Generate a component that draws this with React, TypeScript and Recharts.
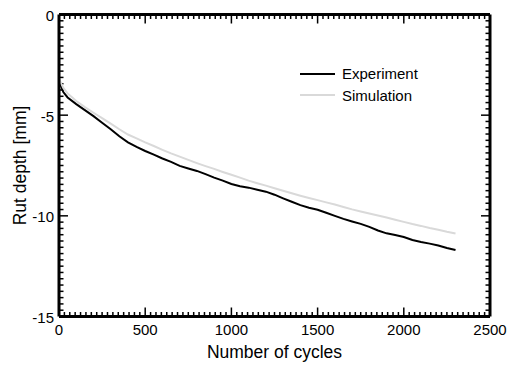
import React from 'react';
import { LineChart, Line, XAxis, YAxis, ReferenceLine } from 'recharts';

// Load cycles at which rut depth was recorded
const cycles = [
  0, 25, 50, 100, 150, 200, 250, 300, 350, 400, 450, 500, 550, 600, 650, 700,
  750, 800, 850, 900, 950, 1000, 1050, 1100, 1150, 1200, 1250, 1300, 1350,
  1400, 1450, 1500, 1550, 1600, 1650, 1700, 1750, 1800, 1850, 1900, 1950, 2000,
  2050, 2100, 2150, 2200, 2250, 2300,
];

// Measured rut depth [mm]
const experiment = [
  -3.3, -3.85, -4.12, -4.45, -4.75, -5.05, -5.38, -5.7, -6.05, -6.35, -6.58,
  -6.78, -6.96, -7.15, -7.32, -7.52, -7.65, -7.77, -7.93, -8.1, -8.25, -8.42,
  -8.53, -8.6, -8.7, -8.8, -8.95, -9.13, -9.3, -9.47, -9.6, -9.7, -9.85, -10.0,
  -10.15, -10.28, -10.4, -10.55, -10.73, -10.87, -10.95, -11.05, -11.2, -11.3,
  -11.38, -11.47, -11.6, -11.7,
];

// Simulated rut depth [mm]
const simulation = [
  -3.2, -3.65, -3.92, -4.3, -4.6, -4.88, -5.15, -5.42, -5.7, -5.96, -6.15,
  -6.35, -6.53, -6.72, -6.9, -7.06, -7.22, -7.38, -7.53, -7.67, -7.82, -7.96,
  -8.1, -8.25, -8.38, -8.5, -8.63, -8.75, -8.88, -9.0, -9.11, -9.22, -9.33,
  -9.44, -9.56, -9.68, -9.78, -9.88, -9.98, -10.08, -10.19, -10.3, -10.41,
  -10.5, -10.6, -10.69, -10.79, -10.88,
];

const seriesNames = ['Experiment', 'Simulation'];
const seriesColors = ['#000000', '#d9d9d9'];
const xMajorTicks = [0, 500, 1000, 1500, 2000, 2500];
const yMajorTicks = [-15, -10, -5, 0];
const xTitle = 'Number of cycles';
const yTitle = 'Rut depth [mm]';

const data = cycles.map((c, i) => ({
  cycle: c,
  experiment: experiment[i],
  simulation: simulation[i],
}));

const FONT = "'Liberation Sans', Arial, Helvetica, sans-serif";
const INK = '#000';
const SUBDIV = 16;
const FRAME = { stroke: INK, strokeWidth: 3 };

// Plot box size in pixels, used to turn tick lengths into axis units
const PLOT_W = 431;
const PLOT_H = 302;
const X_MIN = xMajorTicks[0];
const X_MAX = xMajorTicks[xMajorTicks.length - 1];
const Y_MIN = yMajorTicks[0];
const Y_MAX = yMajorTicks[yMajorTicks.length - 1];
const MAJOR_PX = 9;
const MINOR_PX = 4.5;
const pxToX = (px: number) => (px * (X_MAX - X_MIN)) / PLOT_W;
const pxToY = (px: number) => (px * (Y_MAX - Y_MIN)) / PLOT_H;

// Interior tick positions (majors and minors), frame corners excluded
function innerTicks(major: number[]) {
  const out: { v: number; major: boolean }[] = [];
  for (let k = 0; k < major.length - 1; k++) {
    const a = major[k];
    const b = major[k + 1];
    for (let j = 0; j < SUBDIV; j++) {
      if (k === 0 && j === 0) continue;
      out.push({ v: a + ((b - a) * j) / SUBDIV, major: j === 0 });
    }
  }
  return out;
}

const xInner = innerTicks(xMajorTicks);
const yInner = innerTicks(yMajorTicks);

function BottomLabel(props: any) {
  const { x, y, payload } = props;
  return (
    <text x={x} y={y + 18} textAnchor="middle" fontSize={15}
      fontFamily={FONT} fill={INK}>
      {payload.value}
    </text>
  );
}

function LeftLabel(props: any) {
  const { x, y, payload } = props;
  return (
    <text x={x - 5} y={y + 1} textAnchor="end" dominantBaseline="central"
      fontSize={15} fontFamily={FONT} fill={INK}>
      {payload.value}
    </text>
  );
}

function tickLines() {
  const out: React.ReactNode[] = [];
  xInner.forEach((t) => {
    const d = pxToY(t.major ? MAJOR_PX : MINOR_PX);
    out.push(
      <ReferenceLine key={`xb-${t.v}`} segment={[{ x: t.v, y: Y_MIN }, { x: t.v, y: Y_MIN + d }]}
        stroke={INK} strokeWidth={1.5} />,
      <ReferenceLine key={`xt-${t.v}`} segment={[{ x: t.v, y: Y_MAX }, { x: t.v, y: Y_MAX - d }]}
        stroke={INK} strokeWidth={1.5} />,
    );
  });
  yInner.forEach((t) => {
    const d = pxToX(t.major ? MAJOR_PX : MINOR_PX);
    out.push(
      <ReferenceLine key={`yl-${t.v}`} segment={[{ x: X_MIN, y: t.v }, { x: X_MIN + d, y: t.v }]}
        stroke={INK} strokeWidth={1.5} />,
      <ReferenceLine key={`yr-${t.v}`} segment={[{ x: X_MAX, y: t.v }, { x: X_MAX - d, y: t.v }]}
        stroke={INK} strokeWidth={1.5} />,
    );
  });
  return out;
}

function LegendBox() {
  return (
    <div style={{ position: 'absolute', left: 300, top: 63, fontFamily: FONT,
      fontSize: 15, color: INK }}>
      {seriesNames.map((name, i) => (
        <div key={name} style={{ display: 'flex', alignItems: 'center', height: 21.5 }}>
          <svg width={35} height={4} style={{ display: 'block' }}>
            <line x1={0} y1={2} x2={35} y2={2} stroke={seriesColors[i]} strokeWidth={2} />
          </svg>
          <span style={{ marginLeft: 7, whiteSpace: 'nowrap' }}>{name}</span>
        </div>
      ))}
    </div>
  );
}

export default function App() {
  return (
    <div style={{ position: 'absolute', left: 0, top: 0, width: 508, height: 365 }}>
      <LineChart width={508} height={365} data={data}
        margin={{ top: 13.5, right: 17, bottom: 0, left: 0 }}>
        <XAxis dataKey="cycle" type="number" domain={[X_MIN, X_MAX]} ticks={xMajorTicks}
          interval={0} height={48.5} tickSize={0} tickMargin={0} tickLine={false}
          axisLine={FRAME} tick={<BottomLabel />}
          label={{
            content: (p: any) => {
              const vb = p.viewBox || {};
              return (
                <text x={vb.x + vb.width / 2} y={358} textAnchor="middle"
                  fontSize={17.5} fontFamily={FONT} fill={INK}>
                  {xTitle}
                </text>
              );
            },
          }} />
        <XAxis xAxisId="top" orientation="top" type="number" domain={[X_MIN, X_MAX]}
          height={1} tick={false} tickLine={false} axisLine={FRAME} />
        <YAxis type="number" domain={[Y_MIN, Y_MAX]} ticks={yMajorTicks} interval={0}
          width={59} tickSize={0} tickMargin={0} tickLine={false}
          axisLine={FRAME} tick={<LeftLabel />}
          label={{
            content: (p: any) => {
              const vb = p.viewBox || {};
              const cy = vb.y + vb.height / 2;
              return (
                <text x={20} y={cy} transform={`rotate(-90 20 ${cy})`}
                  textAnchor="middle" dominantBaseline="central"
                  fontSize={17.5} fontFamily={FONT} fill={INK}>
                  {yTitle}
                </text>
              );
            },
          }} />
        <YAxis yAxisId="right" orientation="right" type="number" domain={[Y_MIN, Y_MAX]}
          width={1} tick={false} tickLine={false} axisLine={FRAME} />
        {tickLines()}
        <Line dataKey="experiment" name={seriesNames[0]} stroke={seriesColors[0]}
          strokeWidth={2} dot={false} type="linear" isAnimationActive={false} />
        <Line dataKey="simulation" name={seriesNames[1]} stroke={seriesColors[1]}
          strokeWidth={2} dot={false} type="linear" isAnimationActive={false} />
      </LineChart>
      <LegendBox />
    </div>
  );
}
